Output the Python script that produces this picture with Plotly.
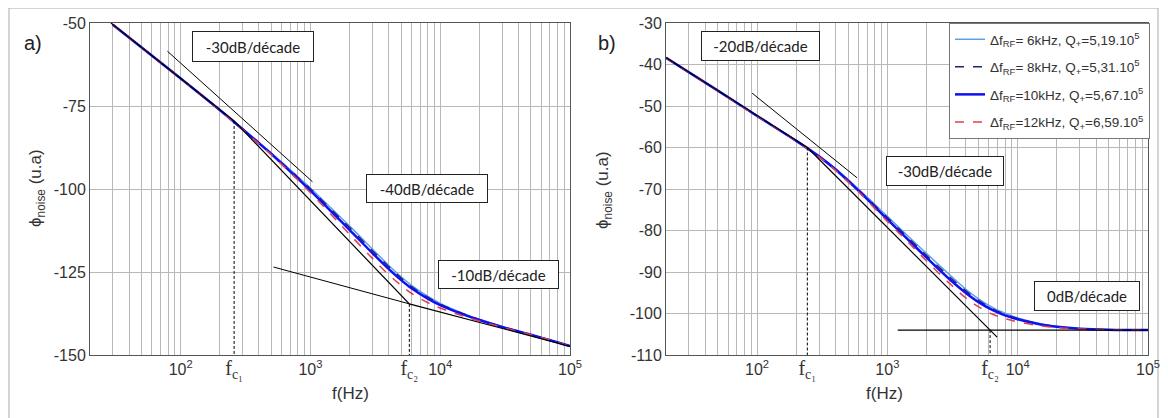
import plotly.graph_objects as go

# ---------------- data ----------------
freq_a = [30, 50, 100, 200, 300, 500, 800, 1000, 1500, 2000, 3000, 4000, 5000, 6000,
          8000, 10000, 15000, 20000, 30000, 50000, 100000]
a_6k = [-50.5, -57.4, -66.7, -76.2, -81.9, -89.2, -96.3, -99.7, -106.4, -111.1, -118.1, -122.95,
        -126.45, -129.0, -132.3, -134.45, -137.45, -139.25, -141.45, -143.9, -147.3]
a_8k = [-50.5, -57.4, -66.7, -76.2, -81.9, -89.3, -96.5, -100.0, -106.8, -111.6, -118.6, -123.35,
        -126.85, -129.4, -132.6, -134.65, -137.55, -139.35, -141.5, -143.9, -147.3]
a_10k = [-50.5, -57.4, -66.7, -76.2, -82.0, -89.5, -96.9, -100.5, -107.4, -112.3, -119.3, -124.05,
         -127.45, -129.9, -133.0, -134.95, -137.75, -139.45, -141.55, -143.9, -147.3]
a_12k = [-50.5, -57.4, -66.7, -76.2, -82.1, -89.7, -97.3, -101.1, -108.4, -113.6, -120.9, -125.75,
         -129.05, -131.4, -134.2, -135.85, -138.25, -139.75, -141.65, -143.9, -147.3]

freq_b = [20, 50, 100, 200, 300, 400, 600, 1000, 1500, 2000, 3000, 4000, 5000, 6500,
          8000, 10000, 15000, 20000, 30000, 50000, 100000]
b_6k = [-38.4, -46.3, -52.4, -58.4, -62.1, -65.1, -70.0, -76.6, -81.85, -85.55, -90.65, -94.15,
        -96.45, -98.65, -99.95, -101.1, -102.45, -103.1, -103.65, -103.9, -104]
b_8k = [-38.4, -46.3, -52.4, -58.4, -62.15, -65.2, -70.2, -76.9, -82.25, -86.05, -91.15, -94.55,
        -96.85, -98.95, -100.2, -101.2, -102.55, -103.15, -103.65, -103.9, -104]
b_10k = [-38.4, -46.3, -52.4, -58.4, -62.2, -65.3, -70.4, -77.3, -82.75, -86.55, -91.75, -95.05,
         -97.25, -99.25, -100.45, -101.4, -102.65, -103.2, -103.65, -103.9, -104]
b_12k = [-38.4, -46.3, -52.4, -58.4, -62.3, -65.5, -70.7, -77.8, -83.35, -87.35, -92.75, -96.25,
         -98.35, -100.25, -101.25, -102.0, -103.0, -103.4, -103.75, -103.95, -104]

series_names = ["Δf<sub>RF</sub>= 6kHz, Q<sub>+</sub>=5,19.10<sup>5</sup>",
                "Δf<sub>RF</sub>= 8kHz, Q<sub>+</sub>=5,31.10<sup>5</sup>",
                "Δf<sub>RF</sub>=10kHz, Q<sub>+</sub>=5,67.10<sup>5</sup>",
                "Δf<sub>RF</sub>=12kHz, Q<sub>+</sub>=6,59.10<sup>5</sup>"]

# corner frequencies
fc1_a, fc2_a = 258, 5780
fc1_b, fc2_b = 243, 6140

# asymptote lines (f, value)
asym_a_f = [29, fc1_a, fc2_a, 100000]
asym_a_v = [-50, -79.5, -134.6, -147.4]
tan30_a_f = [79, 1036]
tan30_a_v = [-58.5, -97.8]
ext10_a_f = [519, fc2_a]
ext10_a_v = [-123.5, -134.6]
vline_a_top = [-79.5, -134.6]

asym_b_f = [20, fc1_b, 6950]
asym_b_v = [-38.3, -60, -105.7]
flat_b_f = [1200, 100000]
flat_b_v = [-104, -104]
tan_b_f = [91.6, 585]
tan_b_v = [-46.9, -67.3]
vline_b_top = [-60, -104]

yt_a = [-150, -125, -100, -75, -50]
yt_b = [-110, -100, -90, -80, -70, -60, -50, -40, -30]

# ---------------- figure ----------------
OFF = 8  # page body margin
W, H = 1168 - OFF, 418 - OFF
def px(x): return (x - OFF) / W
def py(y): return 1 - (y - OFF) / H

colors = ["#5aa0e6", "#23236e", "#1010f0", "#e0404a"]
dashes = ["solid", "dash", "solid", "dash"]
widths = [1.5, 1.5, 2.5, 1.5]

fig = go.Figure()
for i, ys in enumerate([a_6k, a_8k, a_10k, a_12k]):
    fig.add_trace(go.Scatter(x=freq_a, y=ys, mode="lines", line_shape="spline",
                             line=dict(color=colors[i], dash=dashes[i], width=widths[i]),
                             showlegend=False, xaxis="x", yaxis="y"))
for i, ys in enumerate([b_6k, b_8k, b_10k, b_12k]):
    fig.add_trace(go.Scatter(x=freq_b, y=ys, mode="lines", line_shape="spline", name=series_names[i],
                             legendgroup=f"g{i}",
                             line=dict(color=colors[i], dash=dashes[i], width=widths[i]),
                             showlegend=True, xaxis="x2", yaxis="y2"))

def bl(xs, ys, ax, w=1.2, dash="solid"):
    fig.add_trace(go.Scatter(x=xs, y=ys, mode="lines", line=dict(color="black", width=w, dash=dash),
                             showlegend=False, xaxis=ax[0], yaxis=ax[1], hoverinfo="skip"))

bl(asym_a_f, asym_a_v, ("x", "y"))
bl(tan30_a_f, tan30_a_v, ("x", "y"), w=1)
bl(ext10_a_f, ext10_a_v, ("x", "y"), w=1)
bl([fc1_a, fc1_a], [vline_a_top[0], yt_a[0]], ("x", "y"), w=1, dash="3px,2px")
bl([fc2_a, fc2_a], [vline_a_top[1], yt_a[0]], ("x", "y"), w=1, dash="3px,2px")

bl(asym_b_f, asym_b_v, ("x2", "y2"))
bl(flat_b_f, flat_b_v, ("x2", "y2"))
bl(tan_b_f, tan_b_v, ("x2", "y2"), w=1)
bl([fc1_b, fc1_b], [vline_b_top[0], yt_b[0]], ("x2", "y2"), w=1, dash="3px,2px")
bl([fc2_b, fc2_b], [vline_b_top[1], yt_b[0]], ("x2", "y2"), w=1, dash="3px,2px")

minor_vals = [k * 10 ** d for d in range(1, 5) for k in range(1, 10) if k * 10 ** d >= 20] + [100000]

serif = "<span style='font-family:Liberation Serif;font-size:20px'>f<sub>c%s</sub></span>"
def xaxis_cfg(domain, fc1, fc2):
    return dict(type="log", range=[1.30103, 5], domain=domain,
                tickvals=[100, fc1, 1000, fc2, 10000, 100000],
                ticktext=["10<sup>2</sup>", serif % "₁", "10<sup>3</sup>", serif % "₂",
                          "10<sup>4</sup>", "10<sup>5</sup>"],
                showgrid=False, showline=True, mirror=True, linecolor="#555", linewidth=1,
                ticks="", tickfont=dict(family="Liberation Sans", size=16, color="#333"),
                minor=dict(tickvals=minor_vals, showgrid=True, gridcolor="#b8b8b8", gridwidth=1, ticks=""),
                zeroline=False, automargin=False)

def yaxis_cfg(rng, tv, anchor):
    return dict(range=rng, tickvals=tv, ticktext=[str(v) for v in tv],
                domain=[py(355), py(23)], anchor=anchor,
                showgrid=True, gridcolor="#b8b8b8", gridwidth=1,
                showline=True, mirror=True, linecolor="#555", linewidth=1,
                ticks="", tickfont=dict(family="Liberation Sans", size=16, color="#333"),
                zeroline=False, automargin=False)

fig.update_layout(
    width=W, height=H, margin=dict(l=0, r=0, t=0, b=0),
    paper_bgcolor="white", plot_bgcolor="white",
    xaxis=dict(xaxis_cfg([px(90), px(570)], fc1_a, fc2_a), anchor="y"),
    yaxis=yaxis_cfg([-150, -50], yt_a, "x"),
    xaxis2=dict(xaxis_cfg([px(666), px(1148)], fc1_b, fc2_b), anchor="y2"),
    yaxis2=yaxis_cfg([-110, -30], yt_b, "x2"),
    legend=dict(x=px(949), y=py(23), xanchor="left", yanchor="top",
                bgcolor="white", bordercolor="#777", borderwidth=1,
                font=dict(family="Liberation Sans", size=13.5, color="#333"),
                traceorder="grouped", tracegroupgap=7, itemwidth=30),
    showlegend=True,
)

box_font = dict(family="Lato", size=15, color="#222")
boxes = [("-30dB/décade", 253, 47, 120, 29), ("-40dB/décade", 427, 189, 120, 27),
         ("-10dB/décade", 498, 274, 119, 27), ("-20dB/décade", 760, 46, 117, 28),
         ("-30dB/décade", 945, 171, 116, 28), ("0dB/décade", 1087, 296, 104, 28)]
anns = []
for t, cx, cy, w, h in boxes:
    anns.append(dict(text=t, x=px(cx), y=py(cy), xref="paper", yref="paper", showarrow=False,
                     xanchor="center", yanchor="middle", width=w, height=h, font=box_font,
                     bgcolor="white", bordercolor="#222", borderwidth=1, borderpad=0))
lab_font = dict(family="Liberation Sans", size=20, color="#222")
anns.append(dict(text="a)", x=px(22), y=py(30), xref="paper", yref="paper", showarrow=False, font=lab_font))
anns.append(dict(text="b)", x=px(607), y=py(30), xref="paper", yref="paper", showarrow=False, font=lab_font))
tit_font = dict(family="Liberation Sans", size=17, color="#333")
anns.append(dict(text="f(Hz)", x=px(330), y=py(405), xref="paper", yref="paper", showarrow=False, font=tit_font))
anns.append(dict(text="f(Hz)", x=px(905), y=py(405), xref="paper", yref="paper", showarrow=False, font=tit_font))
ytitle = "ϕ<sub>noise</sub> (u.a)"
anns.append(dict(text=ytitle, x=px(24), y=py(188), xref="paper", yref="paper", showarrow=False,
                 textangle=-90, font=tit_font))
anns.append(dict(text=ytitle, x=px(604), y=py(190), xref="paper", yref="paper", showarrow=False,
                 textangle=-90, font=tit_font))
fig.update_layout(annotations=anns)

fig.add_shape(type="rect", xref="paper", yref="paper", x0=px(9), x1=px(1158), y0=py(430), y1=py(8),
              line=dict(color="#aaa", width=1), fillcolor="rgba(0,0,0,0)", layer="below")

fig.write_html("out.html")
